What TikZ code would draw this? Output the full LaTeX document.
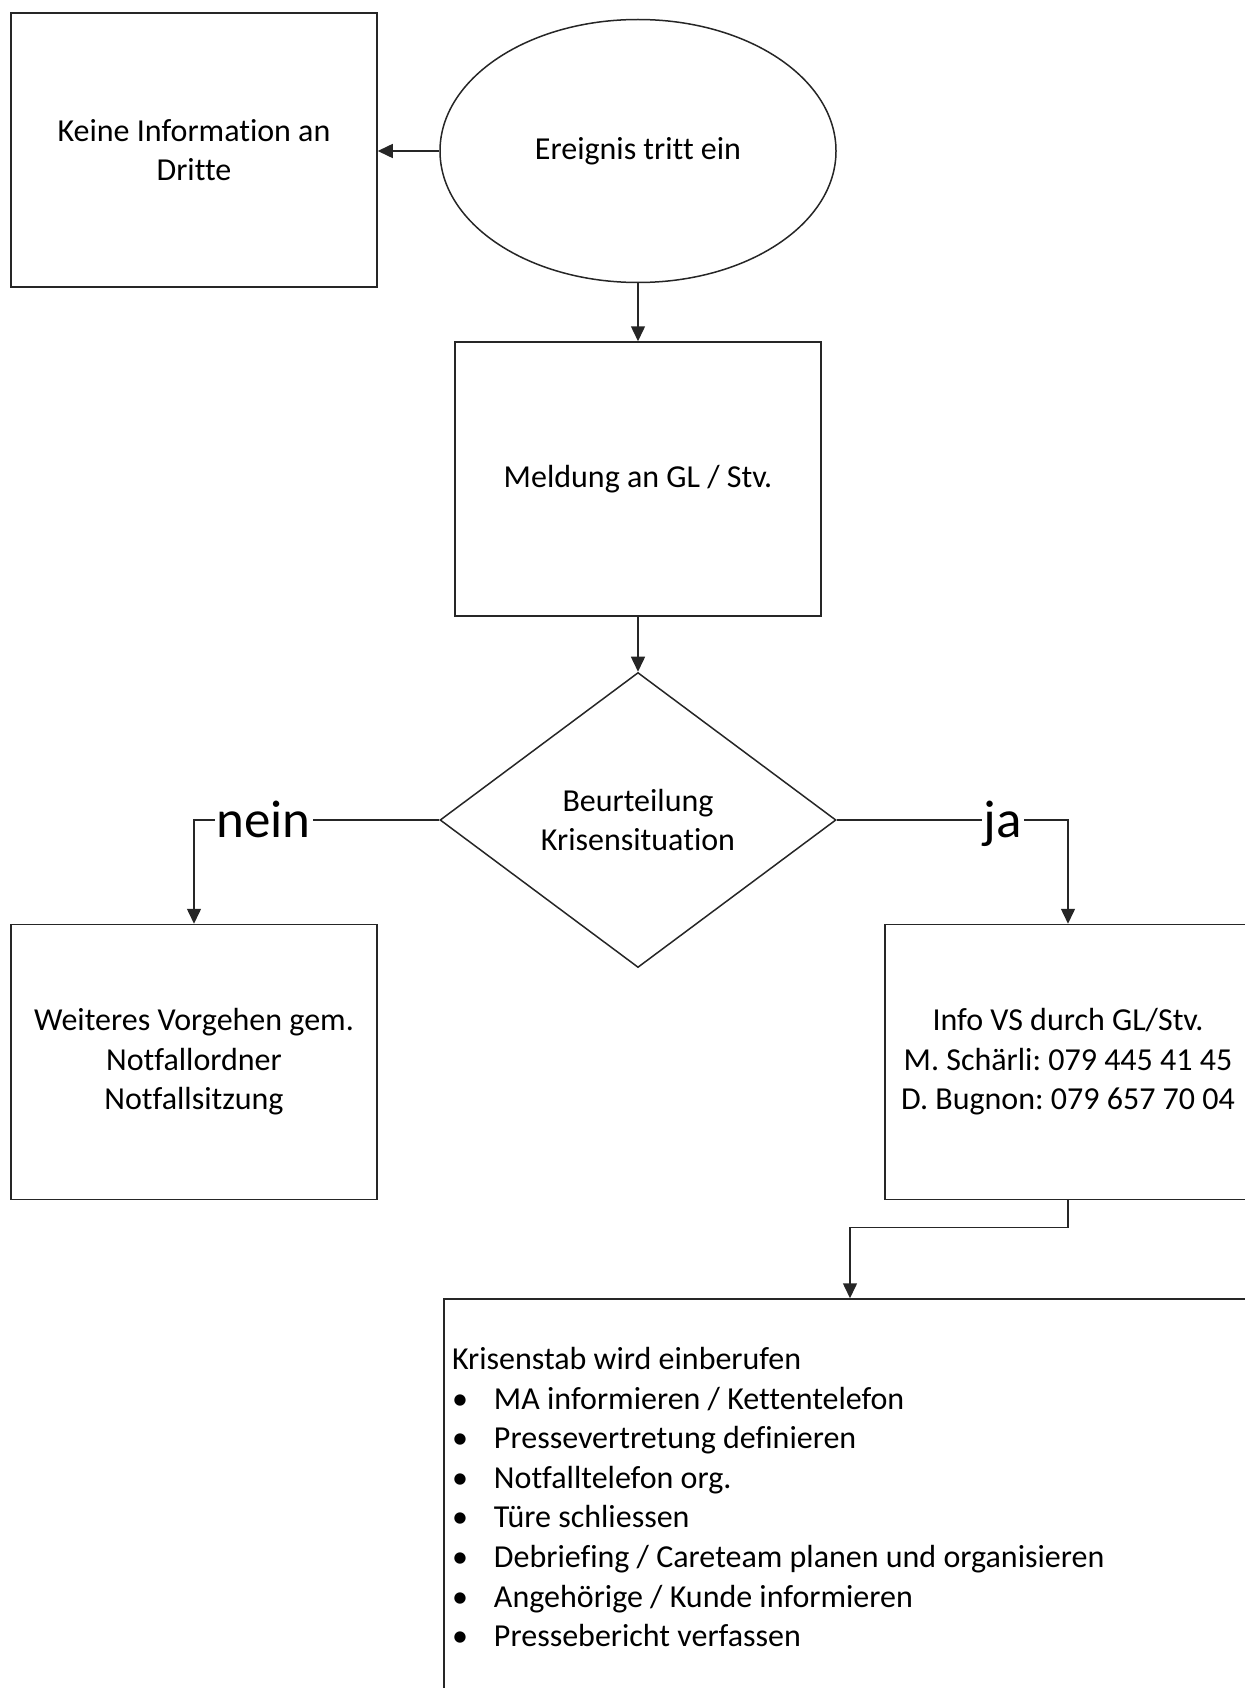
\documentclass[tikz,border=0pt]{standalone}
\usepackage{fontspec}
\setmainfont{Carlito}[Ligatures={NoCommon}]
\usetikzlibrary{shapes.geometric,arrows.meta}

\newcommand{\punkt}{\makebox[42pt][l]{\textbullet}}
\frenchspacing

\begin{document}
\begin{tikzpicture}[x=1pt,y=-1pt,
    box/.style={draw=black!85,line width=1.5pt,rectangle,minimum width=366pt,minimum height=274pt,
      align=center,inner sep=0pt,font=\fontsize{32}{39.6}\selectfont},
    pfeil/.style={draw=black!85,line width=1.5pt,-{Triangle[length=15pt,width=14pt]}},
    antwort/.style={fill=white,inner xsep=2pt,inner ysep=0pt,anchor=base,yshift=-17pt,
      font=\fontsize{53}{60}\selectfont}]
  \useasboundingbox (0,0) rectangle (1244,1688);

  \node[box] (keine) at (194,150) {Keine Information an\\Dritte};
  \node[box,ellipse,minimum width=396pt,minimum height=263pt] (ereignis) at (638,151) {Ereignis tritt ein};
  \node[box] (meldung) at (638,479) {Meldung an GL / Stv.};
  \node[box,diamond,minimum width=396pt,minimum height=295pt] (beurteilung) at (638,820) {Beurteilung\\Krisensituation};
  \node[box,minimum height=275pt] (weiteres) at (194,1062) {Weiteres Vorgehen gem.\\Notfallordner\\Notfallsitzung};
  \node[box,minimum height=275pt] (info) at (1068,1062) {Info VS durch GL/Stv.\\M. Schärli: 079 445 41 45\\D. Bugnon: 079 657 70 04};
  \node[box,minimum width=812pt,minimum height=396pt,text width=796pt,inner xsep=8pt,align=flush left] (krisenstab) at (850,1497)
    {Krisenstab wird einberufen\\
     \punkt MA informieren / Kettentelefon\\
     \punkt Pressevertretung definieren\\
     \punkt Notfalltelefon org.\\
     \punkt Türe schliessen\\
     \punkt Debriefing / Careteam planen und organisieren\\
     \punkt Angehörige / Kunde informieren\\
     \punkt Pressebericht verfassen};

  \draw[pfeil] (ereignis.west) -- (ereignis.west -| keine.east);
  \draw[pfeil] (ereignis) -- (meldung);
  \draw[pfeil] (meldung) -- (beurteilung);
  \draw[pfeil] (beurteilung.west) -| node[antwort,pos=0.358] (nein) {nein} (weiteres.north);
  \draw[pfeil] (beurteilung.east) -| node[antwort,pos=0.359] (ja) {ja} (info.north);
  \draw[pfeil] (info.south) -- ++(0,27) -| (krisenstab.north);
\end{tikzpicture}
\end{document}
